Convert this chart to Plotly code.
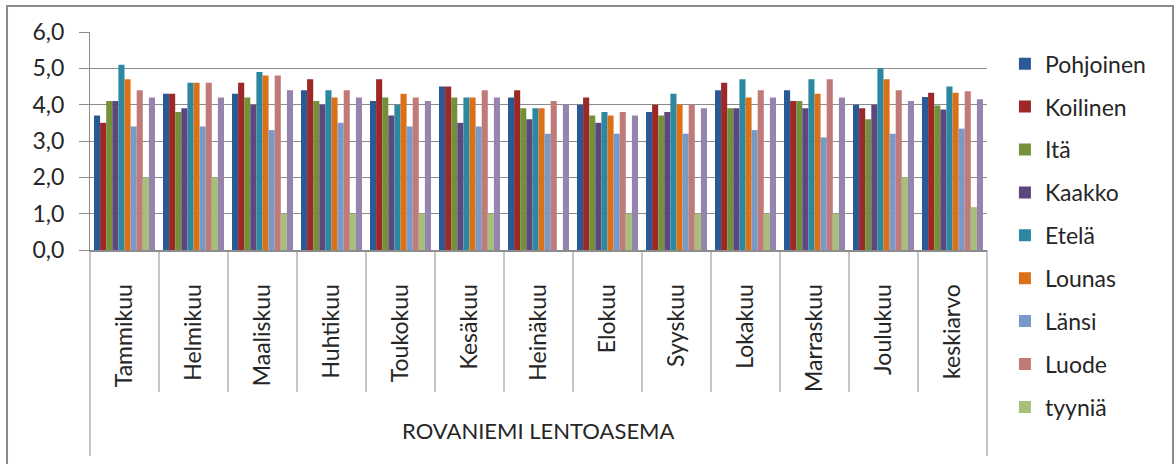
import plotly.graph_objects as go

# Kuukaudet ja vuoden keskiarvo
categories = ["Tammikuu", "Helmikuu", "Maaliskuu", "Huhtikuu", "Toukokuu", "Kesäkuu",
              "Heinäkuu", "Elokuu", "Syyskuu", "Lokakuu", "Marraskuu", "Joulukuu", "keskiarvo"]

# Keskimääräinen tuulen nopeus (m/s) suunnittain
pohjoinen = [3.7, 4.3, 4.3, 4.4, 4.1, 4.5, 4.2, 4.0, 3.8, 4.4, 4.4, 4.0, 4.21]
koilinen  = [3.5, 4.3, 4.6, 4.7, 4.7, 4.5, 4.4, 4.2, 4.0, 4.6, 4.1, 3.9, 4.33]
ita       = [4.1, 3.8, 4.2, 4.1, 4.2, 4.2, 3.9, 3.7, 3.7, 3.9, 4.1, 3.6, 3.98]
kaakko    = [4.1, 3.9, 4.0, 4.0, 3.7, 3.5, 3.6, 3.5, 3.8, 3.9, 3.9, 4.0, 3.87]
etela     = [5.1, 4.6, 4.9, 4.4, 4.0, 4.2, 3.9, 3.8, 4.3, 4.7, 4.7, 5.0, 4.50]
lounas    = [4.7, 4.6, 4.8, 4.2, 4.3, 4.2, 3.9, 3.7, 4.0, 4.2, 4.3, 4.7, 4.33]
lansi     = [3.4, 3.4, 3.3, 3.5, 3.4, 3.4, 3.2, 3.2, 3.2, 3.3, 3.1, 3.2, 3.34]
luode     = [4.4, 4.6, 4.8, 4.4, 4.2, 4.4, 4.1, 3.8, 4.0, 4.4, 4.7, 4.4, 4.37]
tyynia    = [2.0, 2.0, 1.0, 1.0, 1.0, 1.0, 0.0, 1.0, 1.0, 1.0, 1.0, 2.0, 1.18]
kaikki    = [4.2, 4.2, 4.4, 4.2, 4.1, 4.2, 4.0, 3.7, 3.9, 4.2, 4.2, 4.1, 4.15]

series_names = ["Pohjoinen", "Koilinen", "Itä", "Kaakko", "Etelä", "Lounas",
                "Länsi", "Luode", "tyyniä", "Kaikki"]
series_values = [pohjoinen, koilinen, ita, kaakko, etela, lounas,
                 lansi, luode, tyynia, kaikki]
series_colors = ["#2A5A96", "#9C2927", "#74913A", "#5C477E", "#2C88A1", "#DA7119",
                 "#7999C9", "#C07B79", "#A6C079", "#9484AE"]
in_legend = [True] * 9 + [False]

FONT = "Lato"
TEXT = "#262626"
GRID = "#8C8C8C"
FS = 23

fig = go.Figure()
for name, vals, col, show in zip(series_names, series_values, series_colors, in_legend):
    fig.add_trace(go.Bar(
        x=categories, y=vals, name=name, legendgroup=name, showlegend=show,
        marker=dict(color=col, line=dict(width=0)),
    ))

shapes = []
# Luokkien väliviivat akselin alla
for i in range(1, len(categories)):
    shapes.append(dict(type="line", xref="x", yref="paper", x0=i - 0.5, x1=i - 0.5,
                       y0=0, y1=-0.651, line=dict(color=GRID, width=1)))
# Ulommat reunaviivat (toinen luokkataso)
for xp in (0, 1):
    shapes.append(dict(type="line", xref="paper", yref="paper", x0=xp, x1=xp,
                       y0=0, y1=-0.945, line=dict(color=GRID, width=1)))
# Kaavioalueen kehys
shapes.append(dict(type="rect", xref="paper", yref="paper", x0=-0.0925, x1=1.2074,
                   y0=-1.05, y1=1.1193, line=dict(color="#8A8A8A", width=2),
                   fillcolor="rgba(0,0,0,0)"))

fig.update_layout(
    width=1175, height=464,
    margin=dict(l=90, r=188, t=32, b=214),
    paper_bgcolor="white", plot_bgcolor="white",
    barmode="group", bargap=0.116, bargroupgap=0,
    separators=", ",
    font=dict(family=FONT, size=FS, color=TEXT),
    shapes=shapes,
    showlegend=True,
    legend=dict(x=1.02, y=0.953, xanchor="left", yanchor="top",
                traceorder="grouped", tracegroupgap=10, maxheight=440,
                font=dict(family=FONT, size=FS, color=TEXT),
                bgcolor="rgba(0,0,0,0)"),
    annotations=[dict(text="ROVANIEMI LENTOASEMA", xref="paper", yref="paper",
                      x=0.5, y=-0.8257, xanchor="center", yanchor="middle",
                      showarrow=False, font=dict(family=FONT, size=22, color=TEXT))],
)

fig.update_yaxes(range=[0, 6], dtick=1, tickformat=".1f", automargin=False,
                 showgrid=True, gridcolor=GRID, gridwidth=1,
                 showline=True, linecolor=GRID, linewidth=1,
                 ticks="outside", ticklen=10, tickcolor=GRID,
                 ticklabelstandoff=10, zeroline=False,
                 tickfont=dict(family=FONT, size=FS, color=TEXT))
fig.update_xaxes(tickangle=-90, showline=True, linecolor=GRID, linewidth=2,
                 ticks="", showgrid=False, ticklabelstandoff=23, automargin=False,
                 tickfont=dict(family=FONT, size=FS, color=TEXT))

fig.write_html("out.html")
